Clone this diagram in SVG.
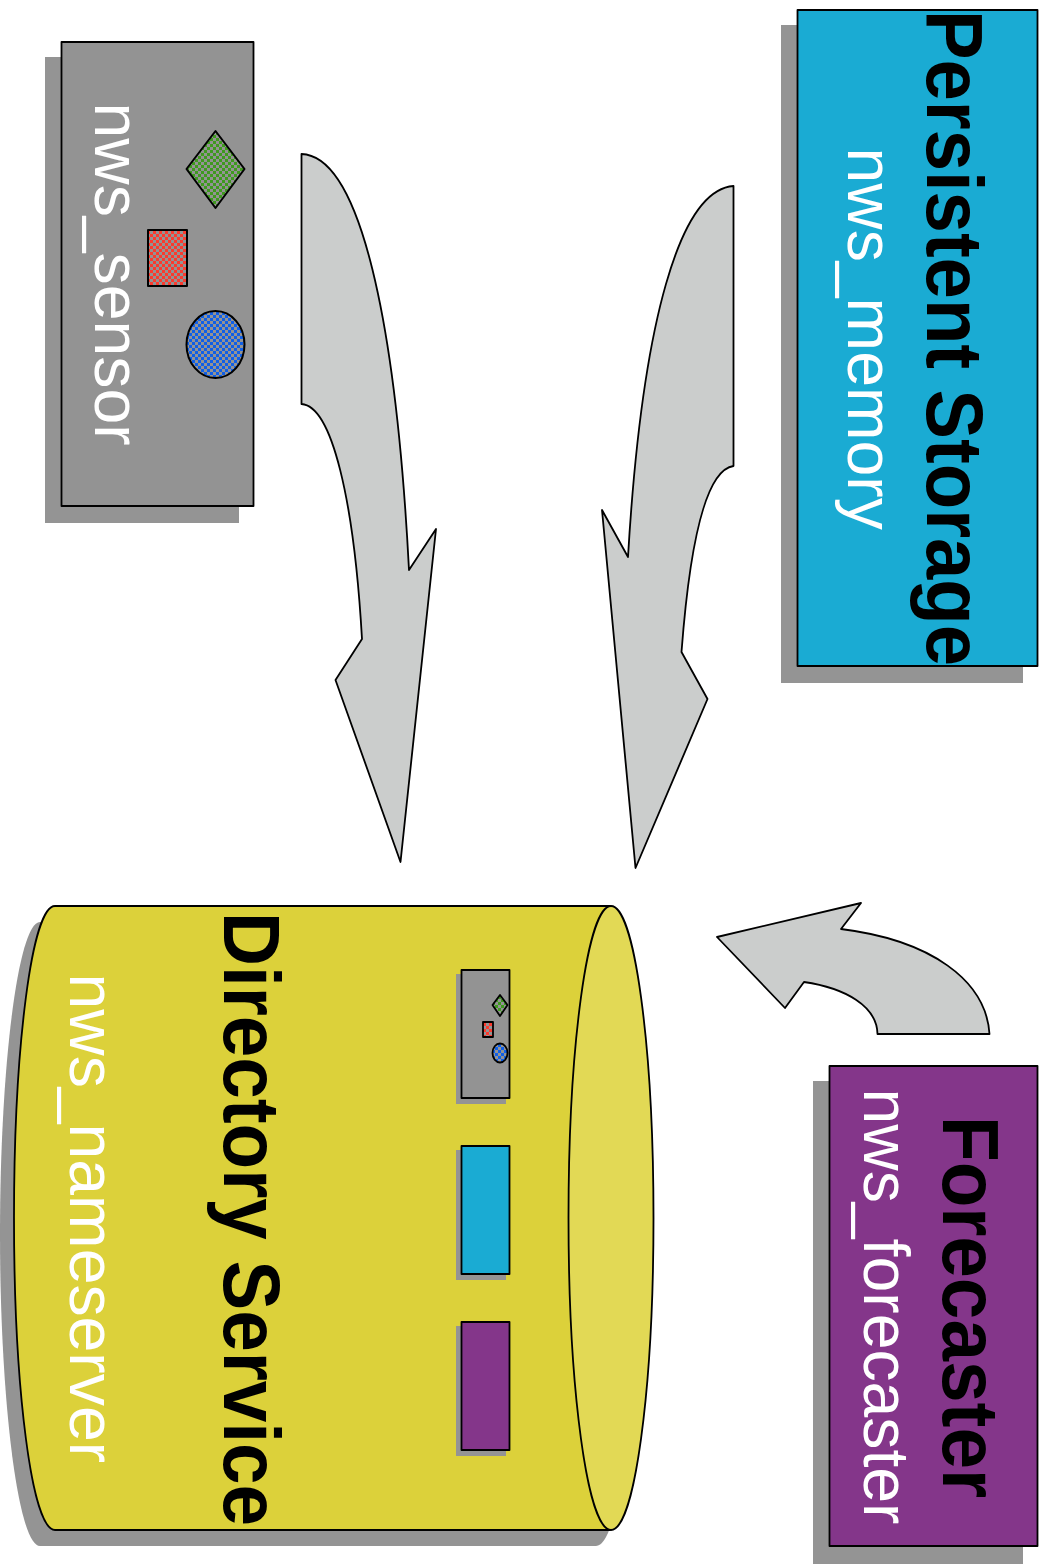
<svg xmlns="http://www.w3.org/2000/svg" width="1047" height="1564" viewBox="0 0 1047 1564">
<style>
.s{fill:#949494}
.o{stroke:#000;stroke-width:1.8;stroke-linejoin:round}
.i{stroke:#000;stroke-width:2;stroke-linejoin:round}
.a{fill:#cbcdcc}
.h{font-family:"Liberation Sans",Arial,sans-serif;font-weight:bold;font-size:80px;fill:#000}
.n{font-family:"Liberation Sans",Arial,sans-serif;font-size:64.300px;fill:#fff}
</style>
<defs>
<pattern id="pg" width="6" height="6" patternUnits="userSpaceOnUse"><rect width="6" height="6" fill="#939393"/><rect width="3" height="3" fill="#3f9a1f"/><rect x="3" y="3" width="3" height="3" fill="#3f9a1f"/></pattern>
<pattern id="pr" width="6" height="6" patternUnits="userSpaceOnUse"><rect width="6" height="6" fill="#939393"/><rect width="3" height="3" fill="#fb3a2e"/><rect x="3" y="3" width="3" height="3" fill="#fb3a2e"/></pattern>
<pattern id="pb" width="6" height="6" patternUnits="userSpaceOnUse"><rect width="6" height="6" fill="#939393"/><rect width="3" height="3" fill="#0f5fe8"/><rect x="3" y="3" width="3" height="3" fill="#0f5fe8"/></pattern>
</defs>
<g id="connectors">
<path class="a o" d="M301.500 154C360 156 396 320 409 570L436 529L400.500 862L335.500 680L362 639C354 500 332 406 301.500 404Z"/>
<path class="a o" d="M733.500 186C680 190 642 320 628 557L602 510L635.500 868L707.500 699L681.500 652C690 540 706 470 733.500 466Z"/>
<path class="a o" d="M989.500 1034C986 980 930 940 841 929L861 903L717 937L785 1008L804 982C845 988 877 1006 877.500 1034Z"/>
</g>
<g id="sensor">
<rect class="s" x="45" y="57" width="194" height="466"/>
<rect class="o" x="61.500" y="42" width="192" height="464" fill="#939393"/>
<polygon class="i" fill="url(#pg)" points="215.500,131 244.500,169 215.500,208 186.500,169"/>
<rect class="i" fill="url(#pr)" x="148" y="230" width="39" height="56"/>
<ellipse class="i" fill="url(#pb)" cx="215.500" cy="344.500" rx="29" ry="33.500"/>
<text class="n" transform="translate(95,102.500) rotate(90)">nws_sensor</text>
</g>
<g id="storage">
<rect class="s" x="781" y="25" width="242" height="658"/>
<rect class="o" x="797.500" y="10" width="240" height="656" fill="#1aabd3"/>
<text class="h" transform="translate(927,10) rotate(90)" textLength="656" lengthAdjust="spacingAndGlyphs">Persistent Storage</text>
<text class="n" transform="translate(848,147.500) rotate(90)">nws_memory</text>
</g>
<g id="forecaster">
<rect class="s" x="813" y="1081" width="210" height="483"/>
<rect class="o" x="829.500" y="1066" width="208" height="480" fill="#84368a"/>
<text class="h" transform="translate(943,1116) rotate(90)" textLength="382" lengthAdjust="spacingAndGlyphs">Forecaster</text>
<text class="n" transform="translate(864,1088.500) rotate(90)">nws_forecaster</text>
</g>
<g id="directory">
<path class="s" d="M40 922H596A42 312 0 0 1 596 1546H40C18 1546 0 1400 0 1234C0 1068 18 922 40 922Z"/>
<path class="o" fill="#dcd13a" d="M55 906H610V1530H55C32 1530 14 1390 14 1218C14 1046 32 906 55 906Z"/>
<ellipse class="o" fill="#e2d955" cx="611" cy="1218" rx="42.500" ry="312"/>
<text class="h" transform="translate(224,912) rotate(90)" textLength="614" lengthAdjust="spacingAndGlyphs">Directory Service</text>
<text class="n" transform="translate(70,973.500) rotate(90)">nws_nameserver</text>
<rect class="s" x="456" y="974" width="50" height="130"/>
<rect class="o" x="461.500" y="970" width="48" height="128" fill="#939393"/>
<polygon class="o" fill="url(#pg)" points="500,995 507.500,1005 500,1016 492.500,1005"/>
<rect class="o" fill="url(#pr)" x="483" y="1022" width="10" height="15"/>
<ellipse class="o" fill="url(#pb)" cx="500" cy="1053" rx="7.500" ry="9.500"/>
<rect class="s" x="456" y="1150" width="50" height="130"/>
<rect class="o" x="461.500" y="1146" width="48" height="128" fill="#1aabd3"/>
<rect class="s" x="456" y="1326" width="50" height="130"/>
<rect class="o" x="461.500" y="1322" width="48" height="128" fill="#84368a"/>
</g>
</svg>
